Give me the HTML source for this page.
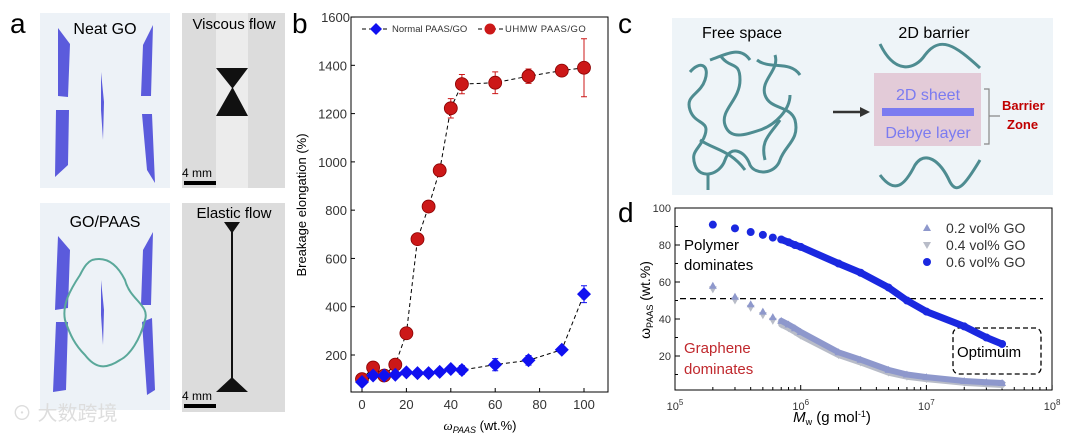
<!DOCTYPE html>
<html><head><meta charset="utf-8"><style>
body{margin:0;background:#fff;}
svg{display:block;font-family:"Liberation Sans","Noto Sans CJK SC",sans-serif;}
</style></head><body>
<svg id="fig" width="1080" height="434" viewBox="0 0 1080 434" xmlns="http://www.w3.org/2000/svg">
<!-- Panel a -->
<g>
<text x="10" y="33" font-size="28">a</text>
<rect x="40" y="13" width="130" height="175" fill="#edf2f7"/>
<text x="105" y="34" font-size="16" text-anchor="middle">Neat GO</text>
<path d="M58 28 L70 44 L68 97 L58 96 Z M56 110 L69 110 L68 165 L55 177 Z M101 72 L104 102 L103 140 L101 110 Z M153 25 L151 96 L141 96 L143 45 Z M152 114 L155 183 L147 170 L142 114 Z" fill="#5b5bdc"/>
<rect x="182" y="13" width="103" height="175" fill="#dcdcdc"/>
<rect x="216" y="13" width="32" height="175" fill="#ececec"/>
<path d="M216 68 L248 68 L233 88 L248 116 L216 116 L232 88 Z" fill="#111"/>
<text x="234" y="29" font-size="15" text-anchor="middle">Viscous flow</text>
<text x="182" y="177" font-size="12">4 mm</text>
<rect x="184" y="181" width="32" height="4" fill="#000"/>
<rect x="40" y="203" width="130" height="207" fill="#edf2f7"/>
<text x="105" y="227" font-size="16" text-anchor="middle">GO/PAAS</text>
<path d="M58 236 L70 250 L68 308 L55 310 Z M56 322 L68 322 L66 390 L53 392 Z M101 280 L104 310 L103 345 L101 315 Z M153 232 L151 305 L141 305 L143 250 Z M152 318 L155 390 L147 395 L142 322 Z" fill="#5b5bdc"/>
<path d="M92 260 C110 255 120 270 125 280 C130 300 150 305 145 320 C140 340 130 355 120 360 C105 370 95 368 85 355 C75 345 70 335 65 320 C62 305 70 290 80 275 C85 265 88 262 92 260" fill="none" stroke="#5aa89a" stroke-width="2"/>
<rect x="182" y="203" width="103" height="209" fill="#dcdcdc"/>
<path d="M224 222 L240 222 L233 232 L233 378 L248 392 L216 392 L231 378 L231 232 Z" fill="#111"/>
<text x="234" y="218" font-size="15" text-anchor="middle">Elastic flow</text>
<text x="182" y="400" font-size="12">4 mm</text>
<rect x="184" y="404" width="32" height="4" fill="#000"/>
<text x="12" y="420" font-size="20" fill="#ddd">⊙ 大数跨境</text>
</g>
<!-- Panel b -->
<g id="pb">
<text x="292" y="33" font-size="28">b</text>
<rect x="351" y="17" width="257" height="375" fill="none" stroke="#000" stroke-width="1"/>
<text transform="translate(306,205) rotate(-90)" font-size="13" text-anchor="middle">Breakage  elongation (%)</text>
<text x="480" y="430" font-size="13" text-anchor="middle"><tspan font-style="italic" font-family="Liberation Serif">ω</tspan><tspan font-size="9" dy="3" font-style="italic">PAAS</tspan><tspan dy="-3"> (wt.%)</tspan></text>
</g>
<!-- Panel c -->
<g>
<text x="618" y="33" font-size="28">c</text>
<rect x="672" y="18" width="381" height="177" fill="#eef4f8"/>
<text x="742" y="38" font-size="16" text-anchor="middle">Free space</text>
<text x="934" y="38" font-size="16" text-anchor="middle">2D barrier</text>
<path d="M690 72 C700 60 710 65 705 80 C700 95 685 95 690 110 C695 125 710 120 705 135 C700 150 690 150 695 165 C700 180 720 175 725 160 C730 145 745 150 750 165 C755 175 775 175 780 160 C785 145 800 140 795 120 C790 105 770 110 765 95 C760 80 780 70 775 55 M720 55 C730 70 740 60 740 80 C740 100 720 110 725 125 C730 140 745 135 760 130 C775 125 790 110 790 95 M710 60 C725 55 740 45 750 60 M757 60 C770 70 790 60 800 75 M700 140 C715 150 730 150 745 170 M780 120 C770 135 760 140 765 160 M708 190 L708 175" fill="none" stroke="#4e8c91" stroke-width="3"/>
<path d="M880 44 C895 75 915 70 925 55 C940 35 955 45 980 68 M880 175 C895 195 905 185 915 165 C925 150 940 160 950 182 C957 195 965 185 980 160" fill="none" stroke="#4e8c91" stroke-width="3"/>
<path d="M833 112 L862 112" stroke="#333" stroke-width="2.5"/><path d="M870 112 L860 107 L860 117 Z" fill="#333"/>
<rect x="874" y="73" width="107" height="73" fill="#e3cbd8"/>
<text x="928" y="100" font-size="16" fill="#7b7bf0" text-anchor="middle">2D sheet</text>
<rect x="882" y="108" width="92" height="8" fill="#7b7bf0"/>
<text x="928" y="138" font-size="16" fill="#7b7bf0" text-anchor="middle">Debye layer</text>
<path d="M984 89 L989 89 L989 144 L984 144 M989 116 L1000 116" fill="none" stroke="#888" stroke-width="1.2"/>
<text x="1002" y="110" font-size="13" font-weight="bold" fill="#c00000">Barrier</text>
<text x="1007" y="129" font-size="13" font-weight="bold" fill="#c00000">Zone</text>
</g>
<!-- Panel d -->
<g id="pd">
<text x="618" y="222" font-size="28">d</text>
<rect x="675" y="208" width="377" height="182" fill="none" stroke="#000" stroke-width="1"/>
<text transform="translate(650,300) rotate(-90)" font-size="14" text-anchor="middle">ω<tspan font-size="9" dy="3">PAAS</tspan><tspan dy="-3"> (wt.%)</tspan></text>
<text x="832" y="422" font-size="15" text-anchor="middle"><tspan font-style="italic">M</tspan><tspan font-size="9" dy="3">w</tspan><tspan dy="-3"> (g mol</tspan><tspan font-size="9" dy="-5">-1</tspan><tspan dy="5">)</tspan></text>
<text x="684" y="250" font-size="15">Polymer</text>
<text x="684" y="270" font-size="15">dominates</text>
<text x="684" y="353" font-size="15" fill="#c0282d">Graphene</text>
<text x="684" y="374" font-size="15" fill="#c0282d">dominates</text>
<rect x="953" y="328" width="88" height="46" rx="6" fill="none" stroke="#000" stroke-width="1.3" stroke-dasharray="5,3"/>
<text x="957" y="357" font-size="15">Optimuim</text>
</g>
</svg>
<script>
// ---- Panel b data ----
const bX = [0,5,10,15,20,25,30,35,40,45,60,75,90,100];
const normalY = [88,115,115,118,128,125,125,130,142,138,160,178,222,452];
const normalErr = [8,8,8,8,8,8,8,8,12,18,25,20,12,35];
const uhmwY = [100,148,115,160,290,680,815,965,1222,1322,1328,1355,1378,1390];
const uhmwErr = [0,0,0,0,0,0,0,0,40,40,45,30,15,120];
const bXTicks = [0,20,40,60,80,100];
const bYTicks = [200,400,600,800,1000,1200,1400,1600];
// ---- Panel d data ----
const dM = [2e5,3e5,4e5,5e5,6e5,7e5,8e5,9e5,1e6,2e6,3e6,5e6,7e6,1e7,2e7,3e7,4e7];
const go06 = [91,89,87,85.5,84,83,81.5,80,79,70,65,57,50,44,36,30,26.5];
const go02 = [58,52,48,44,41,39,37,35,33,22,18,12.5,10,8.6,6.5,5.8,5.4];
const go04 = [56,50,46,42,39,37,35,33,31,20.5,16.5,11,8.8,7.5,5.5,4.8,4.3];
const dYTicks = [20,40,60,80,100];
const dXTicks = [5,6,7,8];
const NS='http://www.w3.org/2000/svg';
function mk(p,t,a){const e=document.createElementNS(NS,t);for(const k in a)e.setAttribute(k,a[k]);p.appendChild(e);return e;}
const bx=v=>362+v*2.22, by=v=>355-(v-200)*0.2414;
const pb=document.getElementById('pb');
bXTicks.forEach(t=>{const l=mk(pb,'line',{x1:bx(t),x2:bx(t),y1:392,y2:388,stroke:'#000'});


const tx=mk(pb,'text',{x:bx(t),y:409,'font-size':13,'text-anchor':'middle',fill:'#333'});tx.textContent=t;

});
bYTicks.forEach(t=>{const l=mk(pb,'line',{x1:351,x2:355,y1:by(t),y2:by(t),stroke:'#000'});


const tx=mk(pb,'text',{x:t==1600?350:347,y:by(t)+5,'font-size':13,'text-anchor':'end',fill:'#333'});tx.textContent=t;

});
function series(y,err,color,shape,name){
 const pts=bX.map((x,i)=>bx(x)+','+by(y[i])).join(' ');
 const pl=mk(pb,'polyline',{points:pts,fill:'none',stroke:'#000','stroke-width':1,'stroke-dasharray':'4,3'});
 
 
 bX.forEach((x,i)=>{const cx=bx(x),cy=by(y[i]);
  if(err[i]>0){const e=mk(pb,'path',{d:`M${cx} ${by(y[i]-err[i])}V${by(y[i]+err[i])}M${cx-3} ${by(y[i]-err[i])}h6M${cx-3} ${by(y[i]+err[i])}h6`,stroke:color,fill:'none'});
  
  }
  let m;
  if(shape=='d') m=mk(pb,'path',{d:`M${cx} ${cy-7}L${cx+7} ${cy}L${cx} ${cy+7}L${cx-7} ${cy}Z`,fill:'#1010f0'});
  else m=mk(pb,'circle',{cx:cx,cy:cy,r:6.5,fill:'#cc1818',stroke:'#8a0000','stroke-width':0.8});
  
  });
}
series(uhmwY,uhmwErr,'#cc1818','c','uhmw');
series(normalY,normalErr,'#1010f0','d','normal');
// legend b
let lg=mk(pb,'g',{});


mk(lg,'line',{x1:362,x2:390,y1:29,y2:29,stroke:'#000','stroke-dasharray':'4,3'});
mk(lg,'path',{d:'M376 23L382 29L376 35L370 29Z',fill:'#1010f0'});
let t1=mk(lg,'text',{x:392,y:32,'font-size':9.5,fill:'#333'});t1.textContent='Normal PAAS/GO';
mk(lg,'line',{x1:478,x2:504,y1:29,y2:29,stroke:'#000','stroke-dasharray':'4,3'});
mk(lg,'circle',{cx:490,cy:29,r:5.5,fill:'#cc1818'});
let t2=mk(lg,'text',{x:505,y:32,'font-size':9.5,fill:'#333','letter-spacing':'0.5'});t2.textContent='UHMW PAAS/GO';
// panel d
const dx=m=>675+(Math.log10(m)-5)*125.7, dy=v=>393-v*1.85;
const pd=document.getElementById('pd');
dYTicks.forEach(t=>{const l=mk(pd,'line',{x1:675,x2:680,y1:dy(t),y2:dy(t),stroke:'#000'});


const tx=mk(pd,'text',{x:671,y:dy(t)+4,'font-size':11,'text-anchor':'end',fill:'#333'});tx.textContent=t;

});
[10,30,50,70,90].forEach(t=>mk(pd,'line',{x1:675,x2:678,y1:dy(t),y2:dy(t),stroke:'#000'}));
dXTicks.forEach(e=>{const x=dx(Math.pow(10,e));const l=mk(pd,'line',{x1:x,x2:x,y1:390,y2:385,stroke:'#000'});


const tx=mk(pd,'text',{x:x,y:410,'font-size':11,'text-anchor':'middle',fill:'#333'});tx.innerHTML='10<tspan font-size="8" dy="-5">'+e+'</tspan>';


if(e<8)for(let k=2;k<10;k++){const xm=dx(k*Math.pow(10,e));mk(pd,'line',{x1:xm,x2:xm,y1:390,y2:387,stroke:'#000'});}});
const dl=mk(pd,'line',{x1:680,x2:1043,y1:dy(51),y2:dy(51),stroke:'#000','stroke-width':1.3,'stroke-dasharray':'6,4'});


function dseries(vals,color,shape,name,band){
 const pts=dM.map((m,i)=>dx(m)+','+dy(vals[i]));
 const pl=mk(pd,'polyline',{points:pts.slice(5).join(' '),fill:'none',stroke:color,'stroke-width':band,'stroke-linejoin':'round','stroke-linecap':'round'});
 
 
 dM.forEach((m,i)=>{const x=dx(m),y=dy(vals[i]);let p;
  if(shape=='o')p=mk(pd,'circle',{cx:x,cy:y,r:4,fill:color});
  else if(shape=='u')p=mk(pd,'path',{d:`M${x} ${y-4}L${x+4} ${y+3}L${x-4} ${y+3}Z`,fill:color});
  else p=mk(pd,'path',{d:`M${x} ${y+4}L${x+4} ${y-3}L${x-4} ${y-3}Z`,fill:color});
  
  });
}
dseries(go04,'#b8bcc8','v','go-0.4',6);
dseries(go02,'#8e98cc','u','go-0.2',6);
dseries(go06,'#1a28e0','o','go-0.6',7);
const lgd=[['u','#8e98cc','0.2 vol% GO'],['v','#b8bcc8','0.4 vol% GO'],['o','#1a28e0','0.6 vol% GO']];
lgd.forEach((e,i)=>{const x=927,y=228+i*17;let p;
 if(e[0]=='o')p=mk(pd,'circle',{cx:x,cy:y,r:4,fill:e[1]});
 else if(e[0]=='u')p=mk(pd,'path',{d:`M${x} ${y-4}L${x+4} ${y+3}L${x-4} ${y+3}Z`,fill:e[1]});
 else p=mk(pd,'path',{d:`M${x} ${y+4}L${x+4} ${y-3}L${x-4} ${y-3}Z`,fill:e[1]});
 
 
 const t=mk(pd,'text',{x:946,y:y+5,'font-size':14,fill:'#333'});t.textContent=e[2];
 
 });
</script>
</body></html>
